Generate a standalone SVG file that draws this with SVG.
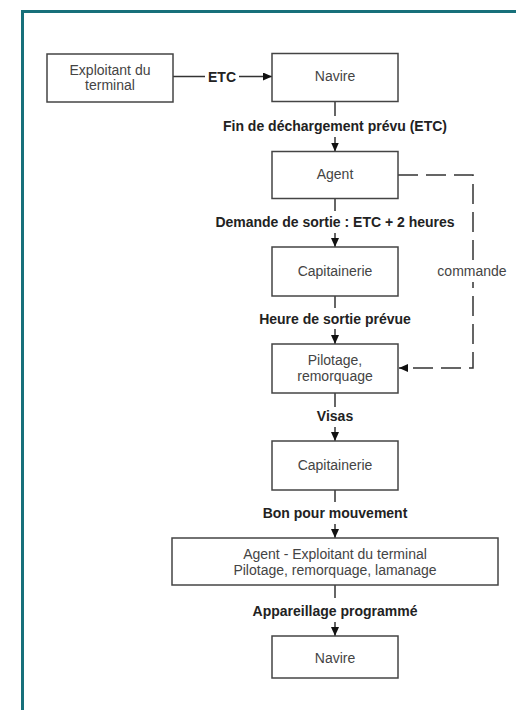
<svg xmlns="http://www.w3.org/2000/svg" width="516" height="710" viewBox="0 0 516 710">
<style>
.box{fill:#fff;stroke:#444;stroke-width:1.5}
.bt{font-family:"Liberation Sans",Arial,sans-serif;font-size:14px;fill:#444;text-anchor:middle}
.lb{font-family:"Liberation Sans",Arial,sans-serif;font-size:14px;font-weight:bold;fill:#222;text-anchor:middle}
.ln{stroke:#333;stroke-width:1.5;fill:none}
.ds{stroke:#333;stroke-width:1.5;fill:none;stroke-dasharray:20,8}
</style>
<defs>
<marker id="ah" markerUnits="userSpaceOnUse" markerWidth="10" markerHeight="10" refX="9" refY="4" orient="auto">
<path d="M0,0 L9,4 L0,8 Z" fill="#111"/>
</marker>
</defs>
<rect width="516" height="710" fill="#fff"/>
<path d="M22.5,710 V11.5 H516" fill="none" stroke="#17707a" stroke-width="3"/>
<g id="connectors">
<line class="ln" x1="173" y1="76.5" x2="205" y2="76.5"/>
<text class="lb" x="222" y="81.5">ETC</text>
<line class="ln" x1="239" y1="76.5" x2="272" y2="76.5" marker-end="url(#ah)"/>
<line class="ln" x1="335" y1="101.5" x2="335" y2="116"/>
<text class="lb" x="335" y="131">Fin de déchargement prévu (ETC)</text>
<line class="ln" x1="335" y1="137" x2="335" y2="151.5" marker-end="url(#ah)"/>
<line class="ln" x1="335" y1="198.5" x2="335" y2="211"/>
<text class="lb" x="335" y="227">Demande de sortie : ETC + 2 heures</text>
<line class="ln" x1="335" y1="233" x2="335" y2="247" marker-end="url(#ah)"/>
<line class="ln" x1="335" y1="296" x2="335" y2="308"/>
<text class="lb" x="335" y="324">Heure de sortie prévue</text>
<line class="ln" x1="335" y1="329" x2="335" y2="344" marker-end="url(#ah)"/>
<line class="ln" x1="335" y1="393" x2="335" y2="407"/>
<text class="lb" x="335" y="421">Visas</text>
<line class="ln" x1="335" y1="427" x2="335" y2="441" marker-end="url(#ah)"/>
<line class="ln" x1="335" y1="490" x2="335" y2="502"/>
<text class="lb" x="335" y="518">Bon pour mouvement</text>
<line class="ln" x1="335" y1="524" x2="335" y2="538" marker-end="url(#ah)"/>
<line class="ln" x1="335" y1="585" x2="335" y2="598"/>
<text class="lb" x="335" y="616">Appareillage programmé</text>
<line class="ln" x1="335" y1="622" x2="335" y2="636" marker-end="url(#ah)"/>
<path class="ds" d="M398,175 H473 V368 H399" marker-end="url(#ah)"/>
<rect x="436" y="261" width="74" height="21" fill="#fff"/>
<text class="bt" x="472" y="276">commande</text>
</g>
<g id="exploitant"><rect class="box" x="47" y="54" width="126" height="48"/><text class="bt" x="110" y="75">Exploitant du</text><text class="bt" x="110" y="90">terminal</text></g>
<g id="navire1"><rect class="box" x="272" y="53.5" width="126" height="48"/><text class="bt" x="335" y="81">Navire</text></g>
<g id="agent"><rect class="box" x="272" y="151.5" width="126" height="47"/><text class="bt" x="335" y="179">Agent</text></g>
<g id="capitainerie1"><rect class="box" x="272" y="247" width="126" height="49"/><text class="bt" x="335" y="276">Capitainerie</text></g>
<g id="pilotage"><rect class="box" x="272" y="344" width="126" height="49"/><text class="bt" x="335" y="365">Pilotage,</text><text class="bt" x="335" y="381">remorquage</text></g>
<g id="capitainerie2"><rect class="box" x="272" y="441" width="126" height="49"/><text class="bt" x="335" y="470">Capitainerie</text></g>
<g id="agent-exploitant"><rect class="box" x="172" y="538" width="326" height="47"/><text class="bt" x="335" y="559">Agent - Exploitant du terminal</text><text class="bt" x="335" y="575">Pilotage, remorquage, lamanage</text></g>
<g id="navire2"><rect class="box" x="272" y="636" width="126" height="42"/><text class="bt" x="335" y="663">Navire</text></g>
</svg>
